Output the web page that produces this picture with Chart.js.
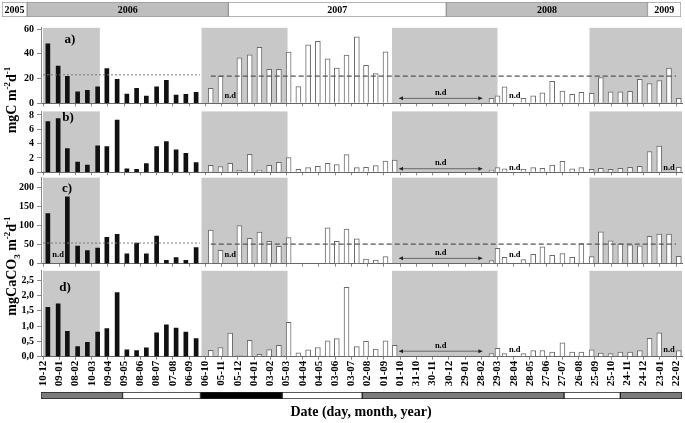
<!DOCTYPE html>
<html><head><meta charset="utf-8">
<script src="https://cdn.jsdelivr.net/npm/chart.js@4.4.1/dist/chart.umd.min.js"></script>
<style>
html,body{margin:0;padding:0;background:#fff;}
body{width:685px;height:423px;position:relative;overflow:hidden;font-family:"Liberation Serif","Times New Roman",serif;}
canvas{position:absolute;left:0;}
.ttl{position:absolute;font-weight:bold;white-space:nowrap;color:#000;}
.yt{font-size:14px;transform:translate(-50%,-50%) rotate(-90deg);}
sup,sub{font-size:9px;line-height:0;}
</style></head><body>
<canvas id="hdr"></canvas>
<canvas id="pa"></canvas><canvas id="pb"></canvas><canvas id="pc"></canvas><canvas id="pd"></canvas>
<canvas id="strip"></canvas>
<div class="ttl yt" style="left:12px;top:100px">mgC m<sup>-2</sup>d<sup>-1</sup></div>
<div class="ttl yt" style="left:12px;top:266px">mgCaCO<sub>3</sub> m<sup>-2</sup>d<sup>-1</sup></div>
<div class="ttl" style="left:361px;top:412px;transform:translate(-50%,-50%);font-size:14px">Date (day, month, year)</div>
<script>
const ND = 'n.d';
// x-axis tick labels (day-month), one every 30 days from 10-12-2005
const tickLabels = ['10-12','09-01','08-02','10-03','09-04','09-05','08-06','08-07','07-08','06-09','06-10','05-11','05-12','04-01','03-02','05-03','04-04','04-05','03-06','03-07','02-08','01-09','01-10','31-10','30-11','30-12','29-01','28-02','29-03','28-04','28-05','27-06','27-07','26-08','25-09','25-10','24-11','24-12','23-01','22-02'];
const tickDays = [0,30,60,90,120,150,180,210,240,270,300,330,360,390,420,450,480,510,540,570,600,630,660,690,720,750,780,810,840,870,900,930,960,990,1020,1050,1080,1110,1140,1170];
// sampling dates, days since 10-12-2005
const days2006 = [9,28,45,64,82,101,118,137,155,173,191,210,228,246,264,283];
const days2007 = [310,328,346,363,382,400,418,436,454,472,490,508,526,543,561,580,597,615,633,650,829,840,853,872,888,906,923,941,960,978,995,1014,1031,1049,1067,1085,1103,1121,1139,1157,1175];
// a) mgC m-2 d-1
const aBlack = [48,30,21.8,9.3,10.4,13.3,28,19.4,7.4,12,5.8,13.3,18.6,6.6,7.2,8.8];
const aWhite = [12,22,ND,36.8,39.2,45.3,27.4,27.4,41.3,13.6,47.2,50,36,28.5,39,53.8,30.6,24,41.6,null,
  4,6.1,13.3,ND,4,6.1,8.5,17.8,9.8,7.2,8.8,8,20.8,9.3,9.3,9.6,19.4,16,18.4,28.5,4];
// b) mgC m-2 d-1
const bBlack = [7.07,7.5,3.3,1.44,1.0,3.7,3.6,7.3,0.5,0.4,1.2,3.6,4.3,3.15,2.65,1.34];
const bWhite = [0.97,0.8,1.25,0.28,2.5,0.32,0.97,1.4,2.04,0.42,0.65,0.83,1.25,1.07,2.46,0.65,0.7,0.93,1.58,1.72,
  0.32,0.65,0.5,ND,0.46,0.65,0.56,1.0,1.53,0.5,0.65,0.42,0.56,0.42,0.56,0.7,0.83,2.9,3.67,ND,0.7];
// c) mgCaCO3 m-2 d-1
const cBlack = [131,ND,175,46,34,41,69,77,26,54,26,72,9,16,9,42];
const cWhite = [87.7,35,ND,100,66.7,82.5,58.8,45.6,68.4,null,null,null,93.9,58.8,90.4,64.9,12.3,9.6,18.4,null,
  7.9,40.4,16.7,ND,10.5,24.6,43.9,21.9,26.3,16.7,52.6,18.4,83.3,59.6,51.8,49.1,46.5,71.9,77.2,77.2,19.3];
// d) mgCaCO3 m-2 d-1
const dBlack = [1.61,1.72,0.83,0.33,0.47,0.80,0.92,2.09,0.22,0.2,0.29,0.78,1.04,0.93,0.8,0.59];
const dWhite = [0.21,0.3,0.77,0.04,0.53,0.08,0.23,0.37,1.12,0.13,0.22,0.3,0.52,0.59,2.26,0.33,0.5,0.25,0.52,0.37,
  0.1,0.27,0.1,ND,0.1,0.2,0.2,0.15,0.45,0.15,0.15,0.22,0.12,0.1,0.15,0.15,0.2,0.6,0.78,ND,0.2];
// mean levels (first period, second period)
const meanA = [23,22];
const meanC = [54,51];
const meanPeriods = [[0,290],[310,1170]];
// shaded periods (days)
const shadedPeriods = [[0,105],[293,452],[645,840],[1010,1181]];
// no-data gap with arrow
const ndGap = [658,812];
const ndGapLevel = {a:4,b:0.5,c:14,d:0.18};
// y ticks
const yTicksA = [0,20,40,60], yTicksB = [0,2,4,6,8], yTicksC = [0,50,100,150,200], yTicksD = [0,0.5,1,1.5,2,2.5];
// year header
const yearLabels = ['2005','2006','2007','2008','2009'];
const yearWidths = [1.5,12,13,12,2];
// bottom period strip
const stripPeriods = [[-4,147],[147,291],[291,442],[442,590],[590,963],[963,1067],[1067,1181]];
const stripKinds = ['g','w','k','w','g','w','g'];

const X_MIN = -3.7, X_MAX = 1181;
Chart.defaults.font.family = '"Liberation Serif","Times New Roman",serif';
Chart.defaults.color = '#000';

const shade = {
  id:'shade',
  beforeDraw(chart, args, o){
    const {ctx, chartArea:a, scales:{x}} = chart;
    ctx.save(); ctx.fillStyle = o.color;
    o.spans.forEach(([s,e])=>{
      const x1 = Math.max(a.left, x.getPixelForValue(s)), x2 = Math.min(a.right, x.getPixelForValue(e));
      ctx.fillRect(x1, a.top, x2-x1, a.bottom-a.top);
    });
    ctx.restore();
  }
};
const annot = {
  id:'annot',
  afterDatasetsDraw(chart, args, o){
    const {ctx, chartArea:a, scales:{x,y}} = chart;
    ctx.save();
    ctx.fillStyle='#000'; ctx.textAlign='center'; ctx.textBaseline='middle';
    ctx.font='bold 13px "Liberation Serif"';
    ctx.fillText(o.letter, a.left+o.letterDx, a.top+o.letterDy);
    ctx.font='bold 8.5px "Liberation Serif"';
    o.nd.forEach(d=>ctx.fillText('n.d', x.getPixelForValue(d), a.bottom-o.ndRise));
    const yy = y.getPixelForValue(o.gapLevel), x1 = x.getPixelForValue(ndGap[0]), x2 = x.getPixelForValue(ndGap[1]);
    ctx.strokeStyle='#666'; ctx.lineWidth=1;
    ctx.beginPath(); ctx.moveTo(x1,yy); ctx.lineTo(x2,yy); ctx.stroke();
    ctx.fillStyle='#222';
    ctx.beginPath(); ctx.moveTo(x1,yy); ctx.lineTo(x1+4,yy-2); ctx.lineTo(x1+4,yy+2); ctx.closePath(); ctx.fill();
    ctx.beginPath(); ctx.moveTo(x2,yy); ctx.lineTo(x2-4,yy-2); ctx.lineTo(x2-4,yy+2); ctx.closePath(); ctx.fill();
    ctx.fillStyle='#000';
    ctx.fillText('n.d', (x1+x2)/2, yy-5.5);
    ctx.restore();
  }
};

function buildPanel(id, cfg){
  const cv = document.getElementById(id);
  const top = Math.floor(cfg.areaTop-11);
  const bottom = Math.ceil(cfg.areaBottom+(cfg.showX?40:9));
  cv.width = 685; cv.height = bottom-top; cv.style.top = top+'px';
  const blackPts=[], whitePts=[], nd=[];
  days2006.forEach((d,i)=>{const v=cfg.black[i]; if(typeof v==='number') blackPts.push({x:d,y:v}); else if(v===ND) nd.push(d);});
  days2007.forEach((d,i)=>{const v=cfg.white[i]; if(typeof v==='number') whitePts.push({x:d,y:v}); else if(v===ND) nd.push(d);});
  const datasets = [
    {type:'bar',data:blackPts,backgroundColor:'#111',borderWidth:0,barThickness:4,grouped:false,order:2},
    {type:'bar',data:whitePts,backgroundColor:'#fff',borderColor:'#6a6a6a',borderWidth:1,barThickness:5,grouped:false,order:2}
  ];
  if(cfg.means){
    datasets.push({type:'line',data:meanPeriods[0].map(d=>({x:d,y:cfg.means[0]})),borderColor:'#7a7a7a',borderWidth:1,borderDash:[2,2],pointRadius:0,order:0});
    datasets.push({type:'line',data:meanPeriods[1].map(d=>({x:d,y:cfg.means[1]})),borderColor:'#555',borderWidth:1.2,borderDash:[5,3],pointRadius:0,order:0});
  }
  new Chart(cv,{type:'bar',data:{datasets},options:{
    responsive:false,animation:false,
    layout:{padding:{top:cfg.areaTop-top,left:0,right:3,bottom:0},autoPadding:false},
    plugins:{legend:{display:false},tooltip:{enabled:false},
      shade:{spans:shadedPeriods,color:'#c8c8c8'},
      annot:{letter:cfg.letter,letterDx:cfg.letterDx,letterDy:cfg.letterDy,nd,ndRise:cfg.ndRise,gapLevel:cfg.gapLevel}},
    scales:{
      x:{type:'linear',min:X_MIN,max:X_MAX,offset:false,
        grid:{display:true,drawOnChartArea:false,drawTicks:true,tickLength:3,color:'#888',offset:false},
        border:{display:true,color:'#666',width:1},
        afterBuildTicks:s=>{s.ticks=tickDays.map(v=>({value:v}));},
        afterFit:s=>{s.height=bottom-cfg.areaBottom; s.paddingLeft=0; s.paddingRight=0;},
        ticks:{display:!!cfg.showX,autoSkip:false,minRotation:90,maxRotation:90,padding:1,font:{size:11,weight:'bold'},color:'#000',callback:(v,i)=>tickLabels[i]}},
      y:{type:'linear',min:0,max:cfg.yMax,
        grid:{display:true,drawOnChartArea:false,tickLength:4,color:'#888'},
        border:{display:true,color:'#888'},
        afterBuildTicks:s=>{s.ticks=cfg.yTicks.map(v=>({value:v}));},
        afterFit:s=>{s.width=41; s.paddingTop=0; s.paddingBottom=0;},
        ticks:{padding:3,font:{size:10,weight:'bold'},color:'#000',callback:cfg.fmt||(v=>String(v))}}
    }
  },plugins:[shade,annot]});
}

buildPanel('pa',{areaTop:27.8,areaBottom:103.3,yMax:61,yTicks:yTicksA,black:aBlack,white:aWhite,means:meanA,letter:'a)',letterDx:29,letterDy:12,ndRise:8,gapLevel:ndGapLevel.a});
buildPanel('pb',{areaTop:111.4,areaBottom:172.3,yMax:8.5,yTicks:yTicksB,black:bBlack,white:bWhite,letter:'b)',letterDx:27,letterDy:6,ndRise:5,gapLevel:ndGapLevel.b});
buildPanel('pc',{areaTop:177.7,areaBottom:263.7,yMax:225,yTicks:yTicksC,black:cBlack,white:cWhite,means:meanC,letter:'c)',letterDx:26,letterDy:11,ndRise:8.5,gapLevel:ndGapLevel.c});
buildPanel('pd',{areaTop:270.8,areaBottom:356.7,yMax:2.8,yTicks:yTicksD,black:dBlack,white:dWhite,letter:'d)',letterDx:24,letterDy:17,ndRise:6.5,gapLevel:ndGapLevel.d,showX:true,fmt:v=>v.toFixed(1).replace('.',',')});

// year header
(function(){
  const cv=document.getElementById('hdr'); cv.width=685; cv.height=20; cv.style.top='0px';
  let acc=0; const spans=yearWidths.map(w=>{const s=[acc,acc+w]; acc+=w; return s;});
  const fills=['#fff','#bebebe','#fff','#bebebe','#fff'];
  new Chart(cv,{type:'bar',data:{labels:[''],datasets:spans.map((s,i)=>({data:[s],backgroundColor:fills[i],borderColor:'#9a9a9a',borderWidth:1,borderSkipped:false,barPercentage:1,categoryPercentage:1,grouped:false}))},
    options:{indexAxis:'y',responsive:false,animation:false,layout:{padding:{left:2,right:4,top:2,bottom:3}},
      plugins:{legend:{display:false},tooltip:{enabled:false}},
      scales:{x:{type:'linear',min:0,max:acc,display:false},y:{display:false}}},
    plugins:[{id:'yl',afterDatasetsDraw(c){const ctx=c.ctx;ctx.save();ctx.font='bold 10px "Liberation Serif"';ctx.fillStyle='#000';ctx.textAlign='center';ctx.textBaseline='middle';
      c.data.datasets.forEach((d,i)=>{const el=c.getDatasetMeta(i).data[0];ctx.fillText(yearLabels[i],(el.x+el.base)/2,el.y+1);});ctx.restore();}}]});
})();

// bottom strip
(function(){
  const cv=document.getElementById('strip'); cv.width=685; cv.height=14; cv.style.top='389px';
  const col={g:'#7b7b7b',w:'#ffffff',k:'#000000'};
  new Chart(cv,{type:'bar',data:{labels:[''],datasets:stripPeriods.map((s,i)=>({data:[s],backgroundColor:col[stripKinds[i]],borderColor:'#222',borderWidth:1,borderSkipped:false,barPercentage:1,categoryPercentage:1,grouped:false}))},
    options:{indexAxis:'y',responsive:false,animation:false,layout:{padding:{left:41,right:3,top:3,bottom:4}},
      plugins:{legend:{display:false},tooltip:{enabled:false}},
      scales:{x:{type:'linear',min:X_MIN,max:X_MAX,display:false},y:{display:false}}}});
})();
</script>
</body></html>
